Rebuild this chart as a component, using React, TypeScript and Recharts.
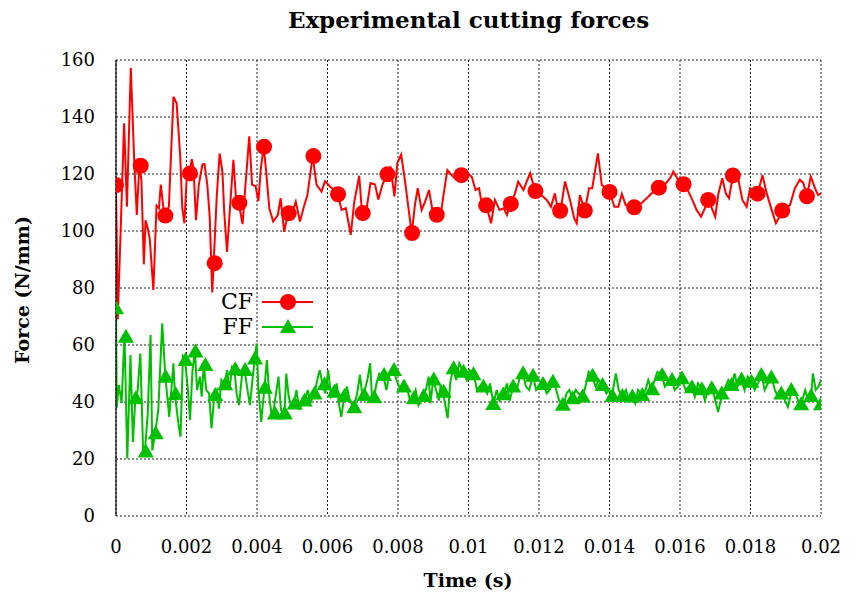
import React from "react";
import { ComposedChart, Line, XAxis, YAxis, CartesianGrid } from "recharts";

// time in ms (axis shows seconds)
const cfTime = [
  0, 0.05, 0.23, 0.31, 0.42, 0.52, 0.59, 0.66, 0.72, 0.79,
  0.84, 0.9, 0.96, 1.06, 1.15, 1.22, 1.27, 1.37, 1.5, 1.63,
  1.72, 1.82, 1.88, 1.94, 2.0, 2.08, 2.15, 2.2, 2.27, 2.35,
  2.45, 2.51, 2.59, 2.66, 2.73, 2.77, 2.86, 2.94, 3.02, 3.07,
  3.15, 3.22, 3.33, 3.41, 3.48, 3.59, 3.69, 3.78, 3.86, 3.96,
  4.04, 4.11, 4.19, 4.26, 4.35, 4.46, 4.59, 4.67, 4.77, 4.88,
  4.98, 5.1, 5.22, 5.33, 5.43, 5.58, 5.69, 5.83, 5.93, 6.07,
  6.18, 6.29, 6.4, 6.52, 6.66, 6.76, 6.9, 6.98, 7.11, 7.22,
  7.35, 7.44, 7.56, 7.69, 7.79, 7.9, 7.98, 8.09, 8.2, 8.31,
  8.39, 8.48, 8.56, 8.67, 8.77, 8.88, 9.0, 9.08, 9.22, 9.29,
  9.4, 9.52, 9.64, 9.77, 9.95, 10.09, 10.2, 10.3, 10.39, 10.5,
  10.64, 10.75, 10.88, 11.0, 11.09, 11.19, 11.32, 11.41, 11.56, 11.65,
  11.75, 11.89, 12.06, 12.22, 12.34, 12.45, 12.53, 12.61, 12.74, 12.88,
  13.0, 13.07, 13.16, 13.3, 13.42, 13.51, 13.67, 13.78, 14.0, 14.14,
  14.25, 14.35, 14.46, 14.71, 14.92, 15.1, 15.27, 15.39, 15.56, 15.72,
  15.81, 15.94, 16.1, 16.24, 16.35, 16.47, 16.6, 16.81, 17.0, 17.09,
  17.2, 17.3, 17.39, 17.5, 17.64, 17.77, 17.89, 17.99, 18.2, 18.34,
  18.46, 18.6, 18.72, 18.92, 19.12, 19.26, 19.4, 19.5, 19.6, 19.71,
  19.83, 19.92, 20.0,
];
const cfForce = [
  116, 69, 137.8, 108.5, 157.3, 123.6, 105.6, 122.9, 118, 88.3,
  103.8, 101, 96.9, 79.3, 108.9, 108, 116.3, 105.4, 108.5, 147.1,
  144.8, 126.7, 108, 102.7, 117.4, 120.2, 125.2, 121.9, 103.8, 116.3,
  123.3, 123.5, 116.3, 104.6, 78.4, 88.7, 112.6, 127.2, 120.7, 106.7,
  92.7, 105.6, 125, 110.3, 109.9, 102.4, 118.9, 133.2, 116.3, 115.7,
  110.5, 122.1, 129.6, 120.8, 107.9, 103.3, 105.6, 111.5, 99.7, 106.2,
  105.6, 110.3, 103.3, 108.5, 112.6, 126.3, 116.2, 113.8, 117.5, 115.6,
  114.5, 112.9, 107.4, 108, 98.6, 110.3, 119.4, 106.3, 108, 116.8,
  116.3, 111, 116.3, 119.9, 122.1, 112.1, 123.8, 126.8, 117.4, 106.7,
  99.3, 109.1, 115, 107.4, 110.3, 114.4, 105.6, 105.7, 106.2, 112.6,
  121.4, 119.6, 118.2, 119.6, 120.3, 119.1, 114.4, 115, 108.5, 109,
  102.7, 110.9, 107.4, 108, 105.6, 109.5, 113.2, 117.3, 114.4, 117.3,
  120.3, 114, 112.6, 110.9, 108.5, 113.2, 107.9, 107.1, 117.4, 110.9,
  104.4, 102.7, 112.6, 107.2, 115, 115, 127.2, 116.2, 113.7, 108.5,
  108.5, 113, 109.1, 108.3, 109.9, 112, 114.2, 115.2, 116.2, 118.5,
  120.8, 118.1, 116.4, 113.8, 110.9, 107.4, 105, 110.9, 105, 113.2,
  118.5, 113.2, 111.5, 119.5, 119, 110.9, 108.5, 115, 113.1, 119.6,
  113.2, 107.4, 102.7, 107.2, 109.1, 115, 118, 116.8, 112.2, 119.1,
  115, 112.6, 113.2,
];

const ffTime = [
  0, 0.02, 0.08, 0.16, 0.24, 0.32, 0.41, 0.48, 0.55, 0.61,
  0.69, 0.77, 0.82, 0.9, 0.98, 1.03, 1.11, 1.2, 1.31, 1.4,
  1.51, 1.63, 1.67, 1.77, 1.83, 1.9, 1.96, 2.04, 2.1, 2.17,
  2.24, 2.3, 2.38, 2.43, 2.49, 2.56, 2.64, 2.71, 2.79, 2.86,
  2.92, 2.99, 3.08, 3.15, 3.22, 3.29, 3.36, 3.42, 3.49, 3.57,
  3.65, 3.73, 3.8, 3.88, 3.94, 3.99, 4.04, 4.12, 4.21, 4.28,
  4.36, 4.41, 4.46, 4.54, 4.61, 4.68, 4.78, 4.83, 4.9, 4.97,
  5.05, 5.12, 5.2, 5.28, 5.36, 5.44, 5.51, 5.63, 5.73, 5.78,
  5.86, 5.94, 6.02, 6.1, 6.18, 6.26, 6.33, 6.39, 6.48, 6.55,
  6.63, 6.75, 6.84, 6.92, 6.97, 7.02, 7.13, 7.21, 7.26, 7.32,
  7.39, 7.47, 7.58, 7.67, 7.76, 7.87, 7.95, 8.03, 8.17, 8.27,
  8.34, 8.42, 8.5, 8.58, 8.7, 8.79, 8.87, 8.92, 9.0, 9.08,
  9.16, 9.21, 9.28, 9.35, 9.41, 9.48, 9.56, 9.65, 9.74, 9.85,
  9.95, 10.03, 10.15, 10.24, 10.32, 10.44, 10.53, 10.61, 10.71, 10.8,
  10.88, 11.0, 11.09, 11.17, 11.27, 11.37, 11.46, 11.54, 11.63, 11.72,
  11.83, 11.92, 12.03, 12.12, 12.22, 12.3, 12.41, 12.49, 12.57, 12.7,
  12.78, 12.86, 12.95, 13.04, 13.12, 13.24, 13.34, 13.41, 13.5, 13.61,
  13.7, 13.81, 13.91, 14.0, 14.07, 14.18, 14.26, 14.36, 14.47, 14.55,
  14.64, 14.73, 14.81, 14.93, 15.02, 15.1, 15.19, 15.28, 15.36, 15.48,
  15.57, 15.65, 15.76, 15.85, 15.94, 16.05, 16.16, 16.25, 16.34, 16.42,
  16.51, 16.62, 16.71, 16.79, 16.91, 17.0, 17.08, 17.2, 17.29, 17.37,
  17.46, 17.55, 17.63, 17.74, 17.83, 17.92, 18.03, 18.12, 18.21, 18.32,
  18.4, 18.49, 18.6, 18.69, 18.78, 18.89, 18.98, 19.06, 19.18, 19.27,
  19.35, 19.44, 19.55, 19.64, 19.72, 19.77, 19.85, 19.93, 20.0,
];
const ffForce = [
  73, 38, 46, 39.6, 64, 20.2, 56.5, 26, 41.3, 43.6,
  57, 22.6, 22.6, 36, 63.5, 23, 29, 37.2, 67.6, 48.9,
  34.8, 53.6, 42.8, 32.5, 27.8, 56, 54.7, 44.2, 33.7, 51.2,
  57.7, 44.2, 48.9, 41.9, 53, 44.2, 43, 30.7, 42.5, 44.2,
  37.7, 47.7, 46.2, 51.2, 44.2, 52.3, 51.5, 43, 38.9, 48.9,
  51.2, 44.2, 38.9, 48.9, 55.3, 60.6, 44.2, 33, 45, 54.7,
  40.5, 36, 36, 43, 48.9, 37.2, 36, 50, 41.9, 38.3,
  39.5, 44.2, 37.2, 40.5, 40.5, 44.2, 39.5, 43, 48.9, 51.2,
  46.2, 43, 51.2, 41.9, 43.6, 46.5, 38.9, 34.8, 42.1, 45.4,
  40.5, 38.2, 43, 49.5, 44.2, 42.5, 47.7, 53.6, 41.9, 41.7,
  46.5, 50, 49.5, 44.2, 50, 51.2, 48, 45.4, 45.4, 44.2,
  40.5, 41.3, 44.2, 38.9, 42.1, 44.2, 48.9, 39.5, 47.9, 44.2,
  40.5, 46, 43.6, 38.3, 34.3, 46.5, 51.8, 47.7, 53.6, 50.6,
  47.7, 51.2, 49.7, 44.2, 45.4, 45.4, 43, 46.5, 39.3, 44.2,
  40.5, 42.7, 46.5, 40.5, 45.4, 44.2, 48.9, 50.1, 45.4, 44.2,
  49.2, 44.2, 45.4, 46.3, 43, 44.2, 47.1, 44.2, 40.5, 39,
  43, 44.2, 41.3, 44.2, 43, 41.9, 46.5, 50.6, 49.2, 45.4,
  47.7, 46, 43, 44.2, 42.1, 50, 44.2, 42.1, 44.2, 40.5,
  41.9, 39.5, 44.2, 42.5, 44.2, 47.7, 44.5, 47.7, 50.6, 49.5,
  45.4, 46.5, 47.7, 44.2, 45.4, 48.3, 44.2, 45.4, 45.2, 41.9,
  46.5, 44.5, 40.5, 44.2, 44.8, 40.5, 36.5, 43, 45.4, 47.7,
  46, 50, 45.4, 47.9, 44.2, 48.9, 47.1, 44.2, 46.5, 49.5,
  44.2, 46.5, 48.6, 44.2, 41.9, 43, 40.5, 38.3, 44.2, 43,
  40.5, 39.2, 44.2, 40.5, 42.1, 50, 44.2, 45.4, 48,
];

// point markers (every 0.7 ms for CF, 71 intervals over 20 ms for FF)
const CF_MARK_STEP = 0.7;
const cfMarks = [
  116.1, 122.9, 105.4, 120.2, 88.7, 109.9, 129.6, 106.2, 126.3, 112.9,
  106.3, 119.9, 99.3, 105.7, 119.6, 109.0, 109.5, 114.0, 107.1, 107.2,
  113.7, 108.3, 115.2, 116.4, 110.9, 119.5, 113.1, 107.2, 112.2,
];
const FF_MARK_STEP = 20 / 71;
const ffMarks = [
  72.9, 62.9, 41.3, 22.6, 29.0, 48.9, 42.8, 54.7, 57.7, 53.0,
  42.5, 46.2, 51.5, 51.2, 55.3, 45.0, 36.0, 36.0, 39.5, 40.5,
  43.0, 46.2, 43.6, 42.1, 38.2, 42.5, 41.7, 49.5, 51.2, 45.4,
  41.3, 42.1, 47.9, 43.6, 51.8, 50.6, 49.7, 45.4, 39.3, 42.7,
  45.4, 50.1, 49.2, 46.3, 47.1, 39.0, 41.3, 41.9, 49.2, 46.0,
  42.1, 42.1, 41.9, 42.5, 44.5, 49.5, 47.7, 48.3, 45.2, 44.5,
  44.8, 43.0, 46.0, 47.9, 47.1, 49.5, 48.6, 43.0, 44.2, 39.2,
  42.1, 39.2,
];

const xTicks = [0, 2, 4, 6, 8, 10, 12, 14, 16, 18, 20];
const xTickLabels = ["0", "0.002", "0.004", "0.006", "0.008", "0.01", "0.012", "0.014", "0.016", "0.018", "0.02"];
const yTicks = [0, 20, 40, 60, 80, 100, 120, 140, 160];

const RED = "#ff0000";
const GREEN = "#00c000";
const FONT = "'DejaVu Serif', serif";

const cfLine = cfTime.map((t, i) => ({ t, v: cfForce[i] }));
const ffLine = ffTime.map((t, i) => ({ t, v: ffForce[i] }));
const cfDots = cfMarks.map((v, k) => ({ t: k * CF_MARK_STEP, v }));
const ffDots = ffMarks.map((v, k) => ({ t: k * FF_MARK_STEP, v }));

const Circle = (p: any) => (
  <circle key={p.key ?? `c${p.index}`} cx={p.cx} cy={p.cy} r={8} fill={RED} />
);
const Tri = (p: any) => (
  <polygon
    key={p.key ?? `t${p.index}`}
    points={`${p.cx},${p.cy - 8} ${p.cx - 8},${p.cy + 6} ${p.cx + 8},${p.cy + 6}`}
    fill={GREEN}
  />
);

export default function App() {
  return (
    <div style={{ position: "absolute", left: 0, top: 0, width: 859, height: 596, background: "#fff", fontFamily: FONT }}>
      <div style={{ position: "absolute", left: 0, width: 937, top: 6, textAlign: "center", fontWeight: "bold", fontSize: 23 }}>
        Experimental cutting forces
      </div>
      <ComposedChart width={859} height={596} margin={{ top: 60, right: 38, bottom: 50, left: 56 }}>
        <CartesianGrid stroke="#222" strokeDasharray="2 2" />
        <XAxis
          dataKey="t"
          type="number"
          domain={[0, 20]}
          ticks={xTicks}
          tickFormatter={(v: number) => xTickLabels[xTicks.indexOf(v)] ?? ""}
          allowDataOverflow
          axisLine={false}
          tickLine={false}
          tickSize={6}
          tickMargin={18}
          height={30}
          tick={{ fill: "#000", fontSize: 18, fontFamily: FONT }}
        />
        <YAxis
          type="number"
          domain={[0, 160]}
          ticks={yTicks}
          allowDataOverflow
          axisLine={{ stroke: "#000", strokeWidth: 1.2 }}
          tickLine={false}
          tickSize={6}
          tickMargin={15}
          width={60}
          tick={{ fill: "#000", fontSize: 18, fontFamily: FONT }}
        />
        <Line data={cfLine} dataKey="v" type="linear" stroke={RED} strokeWidth={2} dot={false} activeDot={false} isAnimationActive={false} />
        <Line data={cfDots} dataKey="v" type="linear" stroke="none" strokeWidth={0} dot={Circle} activeDot={false} isAnimationActive={false} />
        <Line data={ffLine} dataKey="v" type="linear" stroke={GREEN} strokeWidth={2} dot={false} activeDot={false} isAnimationActive={false} />
        <Line data={ffDots} dataKey="v" type="linear" stroke="none" strokeWidth={0} dot={Tri} activeDot={false} isAnimationActive={false} />
      </ComposedChart>
      <svg style={{ position: "absolute", left: 200, top: 286 }} width={120} height={54}>
        <text x={53} y={23} textAnchor="end" fontSize={22} fontFamily={FONT}>CF</text>
        <line x1={62} x2={113} y1={16} y2={16} stroke={RED} strokeWidth={2} />
        <circle cx={88} cy={16} r={8} fill={RED} />
        <text x={53} y={48} textAnchor="end" fontSize={22} fontFamily={FONT}>FF</text>
        <line x1={62} x2={113} y1={41} y2={41} stroke={GREEN} strokeWidth={2} />
        <polygon points="88,33 80,47 96,47" fill={GREEN} />
      </svg>
      <div style={{ position: "absolute", left: 22, top: 290, transform: "translate(-50%, -50%) rotate(-90deg)", whiteSpace: "nowrap", fontWeight: "bold", fontSize: 19 }}>
        Force (N/mm)
      </div>
      <div style={{ position: "absolute", left: 468, top: 580, transform: "translate(-50%, -50%)", whiteSpace: "nowrap", fontWeight: "bold", fontSize: 19 }}>
        Time (s)
      </div>
    </div>
  );
}
